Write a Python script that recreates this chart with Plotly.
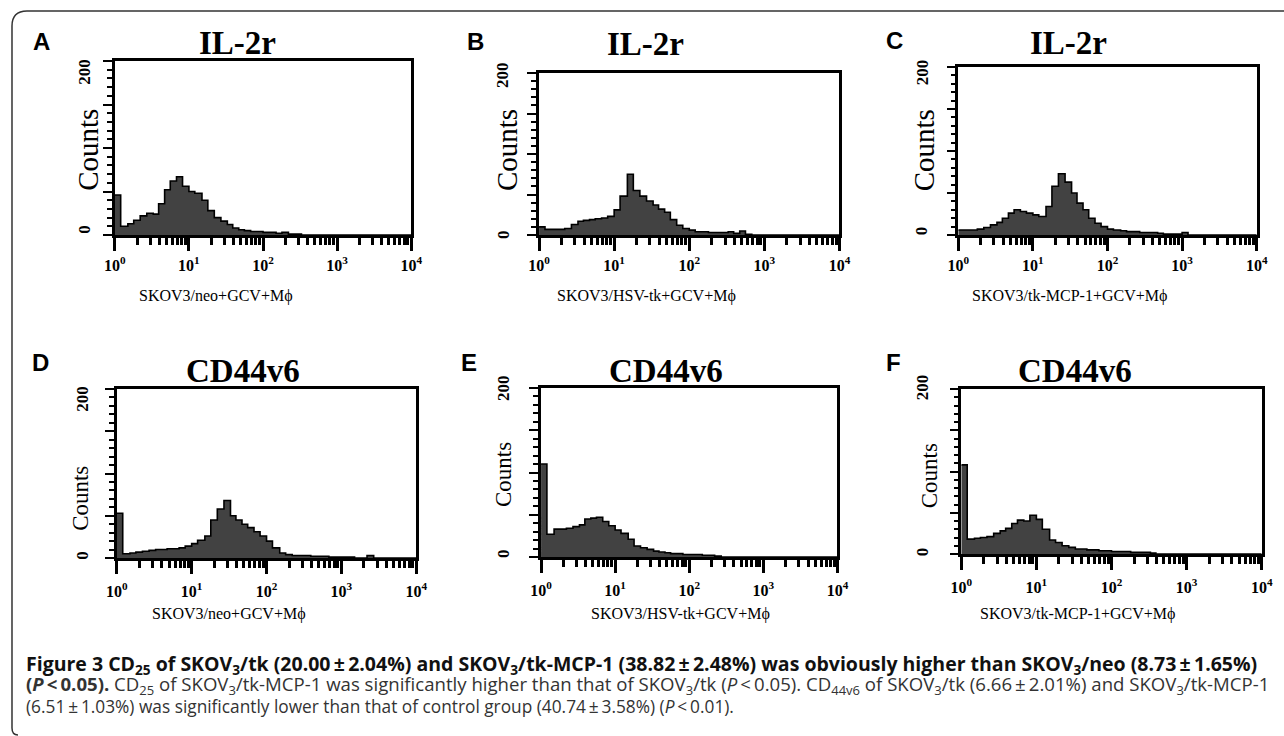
import plotly.graph_objects as go

W, H = 1284, 736          # reference picture size, all positions below are in its pixels
FIG_W = 1310              # figure width in css px
# the photographed page comes out slightly squeezed and shifted horizontally,
# so reference x positions are mapped back through this
SHOT_X0, SHOT_SX = 9, 0.985

# fluorescence channel (step start of each histogram bar), shared by all panels
channels = [1.0, 1.2, 1.5, 1.8, 2.2, 2.7, 3.3, 3.9, 4.7, 5.6, 6.8, 8.2,
            10, 12, 15, 18, 22, 27, 33, 39, 47, 56, 68, 82,
            100, 120, 150, 180, 220, 270, 330, 390, 470, 560, 680, 820,
            1000, 1200, 1500, 1800, 2200, 2700, 3300, 3900, 4700, 5600, 6800, 8200,
            10000]

# counts per channel
counts_a = [46, 10, 13, 17, 22, 25, 24, 36, 52, 62, 67, 56,
            50, 48, 40, 28, 20, 16, 12, 8, 6, 5, 4, 4,
            3, 3, 2, 3, 1, 1, 0, 0, 0, 0, 0, 0,
            0, 0, 0, 0, 0, 0, 0, 0, 0, 0, 0, 0, 0]
counts_b = [10, 7, 7, 7, 8, 13, 17, 18, 19, 20, 21, 23,
            31, 48, 75, 55, 48, 42, 37, 32, 28, 19, 12, 8,
            6, 4, 4, 3, 3, 3, 4, 2, 5, 1, 0, 0,
            0, 0, 0, 0, 0, 0, 0, 0, 0, 0, 0, 0, 0]
counts_c = [6, 6, 6, 7, 9, 12, 15, 20, 26, 30, 28, 26,
            24, 22, 34, 58, 73, 63, 50, 38, 30, 20, 14, 10,
            7, 6, 5, 4, 4, 3, 3, 3, 2, 1, 1, 1,
            3, 0, 0, 0, 0, 0, 0, 0, 0, 0, 0, 0, 0]
counts_d = [53, 5, 6, 7, 8, 9, 10, 10, 11, 11, 12, 14,
            17, 21, 26, 45, 58, 68, 50, 45, 40, 36, 31, 26,
            20, 12, 6, 4, 3, 3, 3, 2, 2, 2, 1, 1,
            1, 1, 0, 0, 3, 0, 0, 0, 0, 0, 0, 0, 0]
counts_e = [110, 27, 33, 33, 34, 36, 38, 45, 46, 47, 42, 37,
            32, 28, 21, 13, 11, 9, 7, 6, 5, 4, 4, 3,
            3, 3, 2, 2, 1, 0, 0, 0, 0, 0, 0, 0,
            0, 0, 0, 0, 0, 0, 0, 0, 0, 0, 0, 0, 0]
counts_f = [108, 18, 19, 20, 21, 25, 28, 31, 37, 41, 40, 47,
            42, 30, 17, 14, 10, 8, 6, 6, 5, 5, 4, 4,
            3, 3, 3, 2, 2, 2, 1, 0, 0, 0, 0, 0,
            0, 0, 0, 0, 0, 0, 0, 0, 0, 0, 0, 0, 0]

letters = ["A", "B", "C", "D", "E", "F"]
titles = ["IL-2r", "IL-2r", "IL-2r", "CD44v6", "CD44v6", "CD44v6"]
xlabels = ["SKOV3/neo+GCV+Mϕ", "SKOV3/HSV-tk+GCV+Mϕ", "SKOV3/tk-MCP-1+GCV+Mϕ",
           "SKOV3/neo+GCV+Mϕ", "SKOV3/HSV-tk+GCV+Mϕ", "SKOV3/tk-MCP-1+GCV+Mϕ"]
all_counts = [counts_a, counts_b, counts_c, counts_d, counts_e, counts_f]

# ---- layout positions (reference pixels) ----
boxes = [(113, 410, 61, 235), (538, 839, 73, 235), (958, 1257, 67, 235),
         (115, 415, 389, 558), (540, 837, 388, 557), (961, 1262, 389, 554)]
letter_pos = [(40, 42), (474, 42), (894, 41), (39, 362), (468, 363), (893, 363)]
title_pos = [(236, 43), (645, 44), (1068, 43), (241, 371), (665, 371), (1075, 371)]
counts_pos = [(86, 150), (506, 150), (924, 150), (79, 498), (503, 475), (929, 476)]
y200_pos = [(82, 72), (502, 75), (922, 72), (80, 399), (502, 388), (922, 387)]
y0_pos = [(82, 229), (502, 235), (922, 231), (80, 555), (502, 554), (922, 552)]
xlabel_pos = [(214, 296), (646, 296), (1069, 296), (227, 614), (680, 614), (1077, 614)]

SERIF = "Liberation Serif"
SANS = "Open Sans"


def px(x):
    return (x - SHOT_X0) / SHOT_SX / FIG_W


def py(y):
    return 1 - y / H


fig = go.Figure()
annotations = []

minor_x = [m * 10 ** d for d in range(4) for m in range(2, 10)]

for i in range(6):
    n = "" if i == 0 else str(i + 1)
    left, right, top, bottom = boxes[i]
    row2 = i >= 3

    fig.add_trace(go.Scatter(
        x=channels, y=all_counts[i], mode="lines",
        line=dict(color="black", width=1.6, shape="hv"),
        fill="tozeroy", fillcolor="#424242",
        xaxis="x" + n, yaxis="y" + n, showlegend=False, hoverinfo="skip",
    ))

    fig.update_layout({
        "xaxis" + n: dict(
            type="log", range=[0, 4], domain=[px(left), px(right)],
            anchor="y" + n, showgrid=False, zeroline=False,
            showline=True, mirror=True, linecolor="black", linewidth=2.5,
            ticks="outside", ticklen=13, tickwidth=2.5, tickcolor="black",
            tickvals=[1, 10, 100, 1000, 10000],
            ticktext=["10<sup>0</sup>", "10<sup>1</sup>", "10<sup>2</sup>",
                      "10<sup>3</sup>", "10<sup>4</sup>"],
            tickfont=dict(family=SERIF, size=16, color="black", weight="bold"),
            ticklabelstandoff=1 if not row2 else 4,
            minor=dict(tickvals=minor_x, ticks="outside", ticklen=7,
                       tickwidth=2.5, tickcolor="black", showgrid=False),
        ),
        "yaxis" + n: dict(
            range=[0, 200], domain=[py(bottom), py(top)],
            anchor="x" + n, showgrid=False, zeroline=False,
            showline=True, mirror=True, linecolor="black", linewidth=2.5,
            ticks="outside", ticklen=9, tickwidth=2, tickcolor="black",
            tickvals=[0, 50, 100, 150, 200], showticklabels=False,
            minor=dict(dtick=10, ticks="outside", ticklen=5, tickwidth=1.5,
                       tickcolor="black", showgrid=False),
        ),
    })

    # panel letter
    lx, ly = letter_pos[i]
    annotations.append(dict(x=px(lx), y=py(ly), xref="paper", yref="paper",
                            text="<b>" + letters[i] + "</b>", showarrow=False,
                            font=dict(family="Liberation Sans", size=24, color="black"),
                            xanchor="center", yanchor="middle"))
    # title
    tx, ty = title_pos[i]
    annotations.append(dict(x=px(tx), y=py(ty), xref="paper", yref="paper",
                            text="<b>" + titles[i] + "</b>", showarrow=False,
                            font=dict(family=SERIF, size=33, color="black"),
                            xanchor="center", yanchor="middle"))
    # y axis label
    cx, cy = counts_pos[i]
    annotations.append(dict(x=px(cx), y=py(cy), xref="paper", yref="paper",
                            text="Counts", textangle=-90, showarrow=False,
                            font=dict(family=SERIF, size=29 if not row2 else 23, color="black"),
                            xanchor="center", yanchor="middle"))
    # y tick labels
    for (vx, vy), txt in ((y200_pos[i], "200"), (y0_pos[i], "0")):
        annotations.append(dict(x=px(vx), y=py(vy), xref="paper", yref="paper",
                                text="<b>" + txt + "</b>", textangle=-90, showarrow=False,
                                font=dict(family=SERIF, size=17, color="black"),
                                xanchor="center", yanchor="middle"))
    # x axis label
    xx, xy = xlabel_pos[i]
    annotations.append(dict(x=px(xx), y=py(xy), xref="paper", yref="paper",
                            text=xlabels[i], showarrow=False,
                            font=dict(family=SERIF, size=16, color="black"),
                            xanchor="center", yanchor="middle"))

# caption
ts = "\u2009"
cap1 = ("<b>Figure 3 CD<sub>25</sub> of SKOV<sub>3</sub>/tk (20.00" + ts + "±" + ts + "2.04%) and "
        "SKOV<sub>3</sub>/tk-MCP-1 (38.82" + ts + "±" + ts + "2.48%) was obviously higher than "
        "SKOV<sub>3</sub>/neo (8.73" + ts + "±" + ts + "1.65%)</b>")
cap2 = ("<b>(<i>P</i>" + ts + "&lt;" + ts + "0.05).</b> CD<sub>25</sub> of SKOV<sub>3</sub>/tk-MCP-1 was "
        "significantly higher than that of SKOV<sub>3</sub>/tk (<i>P</i>" + ts + "&lt;" + ts + "0.05). "
        "CD<sub>44v6</sub> of SKOV<sub>3</sub>/tk (6.66" + ts + "±" + ts + "2.01%) and "
        "SKOV<sub>3</sub>/tk-MCP-1")
cap3 = ("(6.51" + ts + "±" + ts + "1.03%) was significantly lower than that of control group "
        "(40.74" + ts + "±" + ts + "3.58%) (<i>P</i>" + ts + "&lt;" + ts + "0.01).")
for txt, yy, col, fs in ((cap1, 664, "#111111", 19.5), (cap2, 685, "#333333", 18.6),
                         (cap3, 706, "#333333", 17.3)):
    annotations.append(dict(x=px(22), y=py(yy), xref="paper", yref="paper",
                            text=txt, showarrow=False, align="left",
                            font=dict(family=SANS, size=fs, color=col),
                            xanchor="left", yanchor="middle"))

# outer frame: left and top edges with a rounded corner
frame = (f"M {px(10)},{py(728)} Q {px(10)},{py(735)} {px(16)},{py(735)} "
         f"M {px(10)},{py(728)} L {px(10)},{py(26)} "
         f"Q {px(10)},{py(11)} {px(25)},{py(11)} L {px(1290)},{py(11)}")
fig.add_shape(type="path", path=frame, xref="paper", yref="paper",
              line=dict(color="#333333", width=1.5))

fig.update_layout(
    width=FIG_W, height=H, margin=dict(l=0, r=0, t=0, b=0),
    paper_bgcolor="white", plot_bgcolor="white",
    annotations=annotations,
)

fig.write_html("out.html", config={"displayModeBar": False},
               post_script="document.body.style.margin = '0';")
